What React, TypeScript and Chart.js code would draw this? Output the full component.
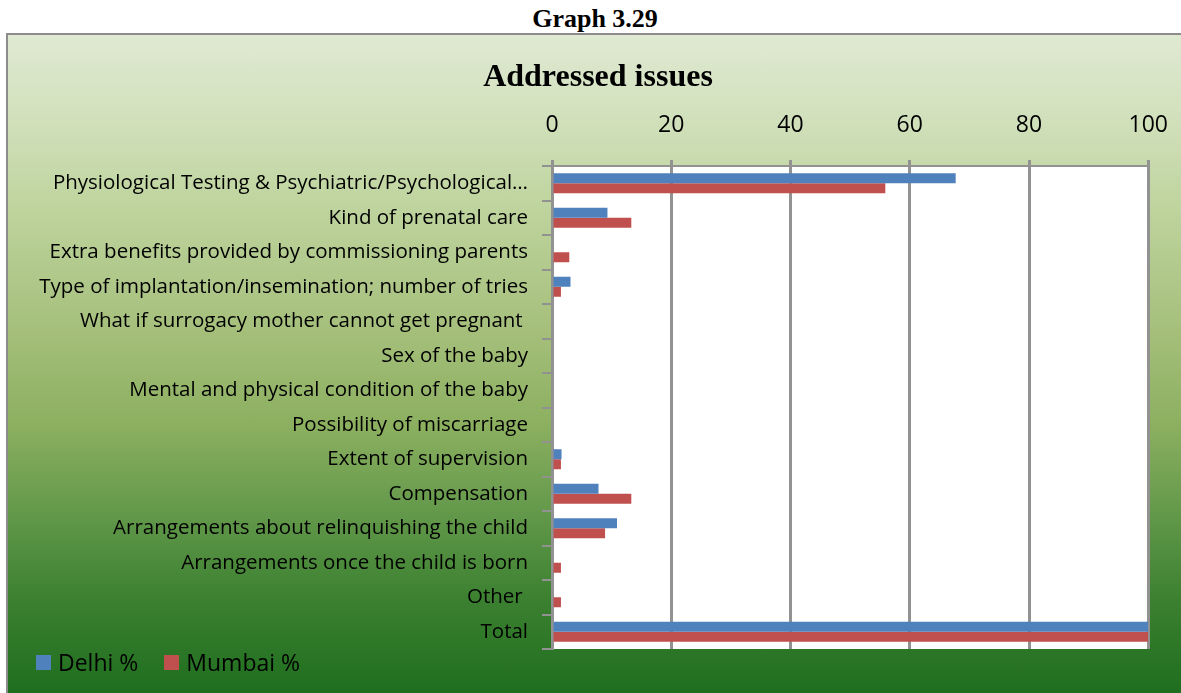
import React, { useEffect, useRef } from "react";
import { Chart, registerables } from "chart.js";

Chart.register(...registerables);

const categories = [
  "Physiological Testing & Psychiatric/Psychological…",
  "Kind of prenatal care",
  "Extra benefits provided by commissioning parents",
  "Type of implantation/insemination; number of tries",
  "What if surrogacy mother cannot get pregnant ",
  "Sex of the baby",
  "Mental and physical condition of the baby",
  "Possibility of miscarriage",
  "Extent of supervision",
  "Compensation",
  "Arrangements about relinquishing the child",
  "Arrangements once the child is born",
  "Other ",
  "Total",
];

const delhi = [67.7, 9.3, 0, 3.1, 0, 0, 0, 0, 1.6, 7.8, 10.9, 0, 0, 100];
const mumbai = [55.9, 13.3, 2.9, 1.5, 0, 0, 0, 0, 1.5, 13.3, 8.9, 1.5, 1.5, 100];

const xTicks = [0, 20, 40, 60, 80, 100];

const seriesNames = ["Delhi %", "Mumbai %"];
const seriesColors = ["#4f81bd", "#c0504d"];

const FONT = "'Open Sans', 'Noto Sans', sans-serif";

const CANVAS_LEFT = 33;
const CANVAS_TOP = 36;
const CANVAS_W = 1156;
const CANVAS_H = 657;

const whitePlot = {
  id: "whitePlot",
  beforeDraw(chart: any) {
    const { ctx, chartArea } = chart;
    ctx.save();
    ctx.fillStyle = "#ffffff";
    ctx.fillRect(chartArea.left, chartArea.top, chartArea.right - chartArea.left, chartArea.bottom - chartArea.top);
    ctx.restore();
  },
};

export default function App() {
  const ref = useRef<HTMLCanvasElement | null>(null);

  useEffect(() => {
    document.body.style.margin = "0";
    document.body.style.overflow = "hidden";
    const chart = new Chart(ref.current as HTMLCanvasElement, {
      type: "bar",
      data: {
        labels: categories,
        datasets: [
          { label: seriesNames[0], data: delhi, backgroundColor: seriesColors[0], borderWidth: 0 },
          { label: seriesNames[1], data: mumbai, backgroundColor: seriesColors[1], borderWidth: 0 },
        ],
      },
      options: {
        indexAxis: "y",
        animation: false,
        responsive: false,
        maintainAspectRatio: false,
        layout: { padding: { left: 0, right: 26, top: 0, bottom: 44 } },
        datasets: { bar: { categoryPercentage: 0.58, barPercentage: 1 } },
        plugins: {
          legend: { display: false },
          tooltip: { enabled: false },
          title: {
            display: true,
            text: "Addressed issues",
            color: "#000",
            font: { family: "'Liberation Serif', 'Times New Roman', serif", size: 32, weight: "bold" },
            padding: { top: 23, bottom: 0 },
          },
        },
        scales: {
          x: {
            position: "top",
            min: 0,
            max: 100,
            afterBuildTicks: (scale: any) => {
              scale.ticks = xTicks.map((v) => ({ value: v }));
            },
            afterFit: (scale: any) => {
              scale.height = 130 - (23 + 32 * 1.2);
            },
            ticks: { color: "#000", font: { family: FONT, size: 23 }, padding: 21 },
            grid: { color: "#929292", lineWidth: 3, tickLength: 6, drawTicks: true },
            border: { display: true, color: "#929292", width: 2 },
          },
          y: {
            afterFit: (scale: any) => {
              scale.width = 552 - CANVAS_LEFT;
            },
            ticks: { color: "#000", font: { family: FONT, size: 20.5 }, padding: 14, autoSkip: false },
            grid: { offset: true, drawOnChartArea: false, color: "#929292", lineWidth: 2, tickLength: 10 },
            border: { display: true, color: "#929292", width: 3 },
          },
        },
      },
      plugins: [whitePlot],
    } as any);
    return () => chart.destroy();
  }, []);

  return (
    <div style={{ position: "absolute", left: 0, top: 0, width: 1181, height: 693, overflow: "hidden", background: "#fff" }}>
      <div
        style={{
          position: "absolute",
          left: 0,
          top: 4,
          width: 1190,
          textAlign: "center",
          fontFamily: "'Liberation Serif', 'Times New Roman', serif",
          fontWeight: "bold",
          fontSize: 26,
          lineHeight: "30px",
          color: "#000",
        }}
      >
        Graph 3.29
      </div>
      <div
        style={{
          position: "absolute",
          left: 6,
          top: 33,
          width: 1181 - 8,
          height: 693 - 35,
          borderLeft: "2px solid #8c8c8c",
          borderTop: "2px solid #8c8c8c",
          background:
            "linear-gradient(to bottom, #dfe9d2 0%, #d2e1bd 12%, #c0d5a0 25%, #a5bf7b 45%, #8cb060 59%, #5f9648 74%, #3b8030 86%, #1f6e1f 100%)",
        }}
      />
      <canvas
        ref={ref}
        width={CANVAS_W}
        height={CANVAS_H}
        style={{ position: "absolute", left: CANVAS_LEFT, top: CANVAS_TOP, width: CANVAS_W, height: CANVAS_H }}
      />
      <div
        style={{
          position: "absolute",
          left: 36,
          top: 647,
          height: 30,
          display: "flex",
          alignItems: "center",
          fontFamily: FONT,
          fontSize: 23,
          color: "#000",
        }}
      >
        {seriesNames.map((n, i) => (
          <div key={n} style={{ display: "flex", alignItems: "center", marginRight: 26 }}>
            <span style={{ display: "inline-block", width: 15, height: 15, background: seriesColors[i], marginRight: 7 }} />
            <span>{n}</span>
          </div>
        ))}
      </div>
    </div>
  );
}
